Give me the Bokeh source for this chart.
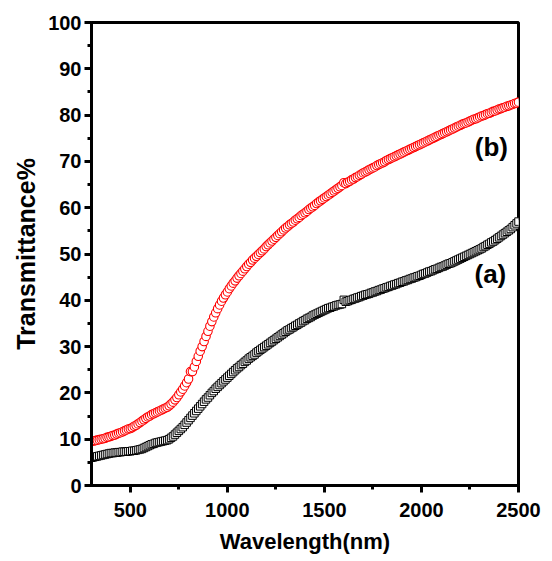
from bokeh.plotting import figure
from bokeh.models import Range1d, SingleIntervalTicker, Label, ColumnDataSource
from bokeh.embed import file_html
from bokeh.resources import INLINE

# wavelength grid (nm), 10 nm steps from 300 to 2500
wavelength = list(range(300, 2501, 10))

# curve (a): black squares
trans_a = [
    6.0, 6.1, 6.2, 6.3, 6.4, 6.5, 6.6, 6.7, 6.8, 6.9,
    7.0, 7.0, 7.1, 7.1, 7.2, 7.2, 7.3, 7.3, 7.3, 7.4,
    7.4, 7.5, 7.5, 7.6, 7.7, 7.8, 7.9, 8.1, 8.3, 8.5,
    8.7, 8.9, 9.0, 9.2, 9.3, 9.4, 9.5, 9.6, 9.7, 9.8,
    10.0, 10.3, 10.6, 11.0, 11.4, 11.8, 12.2, 12.6, 13.1, 13.6,
    14.1, 14.6, 15.1, 15.6, 16.1, 16.6, 17.1, 17.6, 18.1, 18.6,
    19.0, 19.5, 20.0, 20.4, 20.9, 21.3, 21.7, 22.1, 22.5, 22.9,
    23.3, 23.7, 24.1, 24.5, 24.9, 25.3, 25.6, 26.0, 26.3, 26.7,
    27.0, 27.4, 27.7, 28.0, 28.3, 28.7, 29.0, 29.3, 29.6, 29.9,
    30.2, 30.5, 30.8, 31.1, 31.4, 31.7, 32.0, 32.3, 32.6, 32.9,
    33.2, 33.5, 33.7, 34.0, 34.2, 34.5, 34.7, 35.0, 35.2, 35.5,
    35.7, 36.0, 36.2, 36.4, 36.7, 36.9, 37.1, 37.3, 37.5, 37.7,
    37.9, 38.1, 38.3, 38.4, 38.6, 38.7, 38.9, 39.0, 39.1, 39.2,
    40.1, 39.7, 39.8, 40.0, 40.1, 40.3, 40.4, 40.6, 40.7, 40.9,
    41.0, 41.2, 41.3, 41.4, 41.6, 41.7, 41.9, 42.0, 42.2, 42.3,
    42.5, 42.6, 42.8, 42.9, 43.1, 43.2, 43.4, 43.5, 43.7, 43.8,
    44.0, 44.1, 44.3, 44.4, 44.6, 44.7, 44.9, 45.0, 45.2, 45.3,
    45.5, 45.7, 45.8, 46.0, 46.2, 46.3, 46.5, 46.7, 46.8, 47.0,
    47.2, 47.3, 47.5, 47.7, 47.9, 48.0, 48.2, 48.4, 48.6, 48.8,
    49.0, 49.2, 49.4, 49.6, 49.8, 50.0, 50.2, 50.4, 50.6, 50.8,
    51.0, 51.2, 51.5, 51.7, 52.0, 52.2, 52.5, 52.7, 53.0, 53.3,
    53.6, 53.9, 54.2, 54.5, 54.8, 55.1, 55.4, 55.8, 56.2, 56.6,
    57.0,
]

# curve (b): red circles
trans_b = [
    9.5, 9.6, 9.7, 9.8, 9.9, 10.0, 10.1, 10.2, 10.4, 10.5,
    10.6, 10.8, 10.9, 11.1, 11.3, 11.4, 11.6, 11.8, 12.0, 12.2,
    12.3, 12.5, 12.8, 13.0, 13.3, 13.6, 13.9, 14.2, 14.5, 14.8,
    15.0, 15.3, 15.5, 15.7, 15.9, 16.1, 16.3, 16.5, 16.7, 16.9,
    17.2, 17.6, 18.0, 18.5, 19.0, 19.6, 20.2, 20.8, 21.5, 22.2,
    23.0, 24.6, 24.6, 25.6, 26.8, 27.9, 29.0, 30.0, 31.1, 32.2,
    33.3, 34.4, 35.4, 36.4, 37.3, 38.2, 39.0, 39.8, 40.5, 41.2,
    41.8, 42.5, 43.1, 43.7, 44.2, 44.8, 45.3, 45.8, 46.3, 46.8,
    47.3, 47.8, 48.2, 48.7, 49.1, 49.5, 49.9, 50.3, 50.7, 51.1,
    51.6, 52.0, 52.4, 52.8, 53.2, 53.6, 54.0, 54.4, 54.8, 55.2,
    55.6, 55.9, 56.3, 56.6, 56.9, 57.3, 57.6, 57.9, 58.3, 58.6,
    58.9, 59.2, 59.6, 59.9, 60.2, 60.5, 60.9, 61.2, 61.5, 61.8,
    62.1, 62.4, 62.7, 63.0, 63.3, 63.6, 63.9, 64.2, 64.5, 64.8,
    65.4, 65.2, 65.5, 65.7, 66.0, 66.2, 66.5, 66.7, 67.0, 67.2,
    67.5, 67.7, 67.9, 68.2, 68.4, 68.6, 68.8, 69.1, 69.3, 69.5,
    69.7, 69.9, 70.2, 70.4, 70.6, 70.8, 71.0, 71.2, 71.4, 71.6,
    71.8, 72.0, 72.2, 72.4, 72.6, 72.8, 73.0, 73.2, 73.4, 73.6,
    73.8, 74.0, 74.2, 74.4, 74.6, 74.8, 75.0, 75.2, 75.4, 75.6,
    75.8, 76.0, 76.2, 76.4, 76.6, 76.8, 77.0, 77.2, 77.4, 77.6,
    77.8, 78.0, 78.2, 78.3, 78.5, 78.7, 78.9, 79.1, 79.2, 79.4,
    79.6, 79.8, 79.9, 80.1, 80.3, 80.4, 80.6, 80.8, 80.9, 81.1,
    81.3, 81.4, 81.6, 81.7, 81.9, 82.0, 82.2, 82.3, 82.5, 82.6,
    82.8,
]

series_labels = ["(a)", "(b)"]
label_x = [2355, 2360]
label_y = [45.7, 73.2]

FONT = "Liberation Sans"

p = figure(width=552, height=561, output_backend="svg", toolbar_location=None,
           x_range=Range1d(300, 2500), y_range=Range1d(0, 100),
           min_border_left=91, min_border_right=34, min_border_top=22, min_border_bottom=76)

p.grid.visible = False
p.outline_line_color = "black"
p.outline_line_width = 3
p.background_fill_color = "white"
p.border_fill_color = "white"

src_a = ColumnDataSource(dict(x=wavelength, y=trans_a))
src_b = ColumnDataSource(dict(x=wavelength, y=trans_b))

p.scatter("x", "y", source=src_a, marker="square", size=7.5, line_color="black",
          fill_color="white", line_width=1)
p.scatter("x", "y", source=src_b, marker="circle", size=8.5, line_color="red",
          fill_color="white", line_width=1.1)

p.xaxis.ticker = SingleIntervalTicker(interval=500, num_minor_ticks=2)
p.yaxis.ticker = SingleIntervalTicker(interval=10, num_minor_ticks=2)

for ax in (p.xaxis[0], p.yaxis[0]):
    ax.axis_line_width = 3
    ax.major_tick_line_width = 3
    ax.minor_tick_line_width = 3
    ax.major_tick_out = 7
    ax.major_tick_in = 0
    ax.minor_tick_out = 4
    ax.minor_tick_in = 0
    ax.major_label_text_font = FONT
    ax.major_label_text_font_style = "bold"
    ax.major_label_text_font_size = "20px"
    ax.major_label_text_color = "black"
    ax.axis_label_text_font = FONT
    ax.axis_label_text_font_style = "bold"
    ax.axis_label_text_color = "black"

p.xaxis.axis_label = "Wavelength(nm)"
p.yaxis.axis_label = "Transmittance%"
p.xaxis.axis_label_text_font_size = "22px"
p.yaxis.axis_label_text_font_size = "25px"
p.xaxis.major_label_standoff = 10
p.xaxis.axis_label_standoff = 9
p.yaxis.major_label_standoff = 3
p.yaxis.axis_label_standoff = 5

for t, lx, ly in zip(series_labels, label_x, label_y):
    p.add_layout(Label(x=lx, y=ly, text=t, text_font=FONT, text_font_style="bold",
                       text_font_size="26px", text_align="center", text_baseline="middle",
                       text_color="black"))

open("out.html", "w").write(file_html(p, INLINE))
